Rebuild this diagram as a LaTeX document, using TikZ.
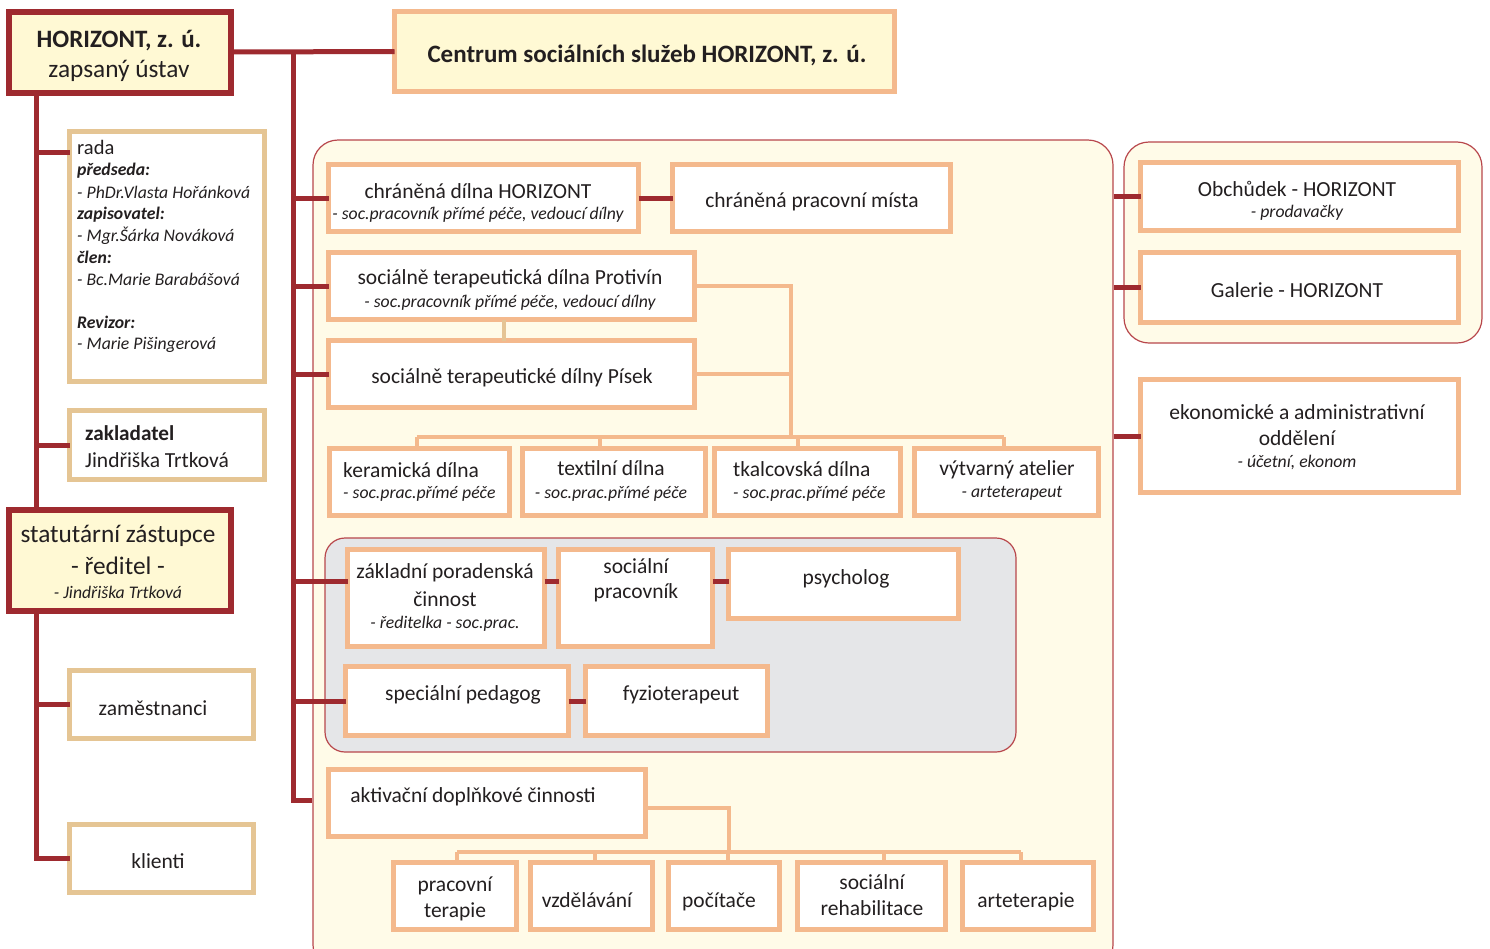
\documentclass[tikz,border=0pt]{standalone}
\usepackage{fontspec}
\setmainfont{Carlito}
\usetikzlibrary{calc}
\definecolor{dred}{HTML}{9E2A2F}
\definecolor{peach}{HTML}{F4B98D}
\definecolor{tanc}{HTML}{E5C594}
\definecolor{yfill}{HTML}{FFF9D4}
\definecolor{pfill}{HTML}{FFFBE8}
\definecolor{gfill}{HTML}{E5E6E8}
\definecolor{ink}{HTML}{231F20}
\definecolor{plinec}{HTML}{B8474C}
\newcommand\mkbox[6]{\node[#1, inner sep=0pt, outer sep=0pt, minimum width={(#4)-(#2)-5}, minimum height={(#5)-(#3)-5}] (#6) at ({((#2)+(#4))/2},{((#3)+(#5))/2}) {};}
\tikzset{
  redbox/.style={draw=dred, line width=6pt, fill=yfill, rectangle},
  peachbox/.style={draw=peach, line width=5pt, fill=white, rectangle},
  tanbox/.style={draw=tanc, line width=5pt, fill=white, rectangle},
  ybox/.style={draw=peach, line width=5pt, fill=yfill, rectangle},
  panel/.style={draw=plinec, line width=1.2pt, fill=pfill, rounded corners=25pt, rectangle},
  gpanel/.style={draw=plinec, line width=1.2pt, fill=gfill, rounded corners=20pt, rectangle},
  redline/.style={draw=dred, line width=5pt},
  pconn/.style={draw=peach, line width=4pt},
  tconn/.style={draw=tanc, line width=4pt},
  txt/.style={text=ink, inner sep=0pt, yshift=-1.5pt, font=\fontsize{21.5}{26}\selectfont},
  bigtxt/.style={text=ink, inner sep=0pt, yshift=-1.5pt, font=\fontsize{25.3}{30}\selectfont},
  btxt/.style={text=ink, inner sep=0pt, yshift=-1.5pt, font=\fontsize{25}{30}\selectfont\bfseries},
  subt/.style={text=ink, inner sep=0pt, yshift=-1.5pt, font=\fontsize{17.7}{21}\selectfont\itshape},
  bsubt/.style={text=ink, inner sep=0pt, yshift=-1.5pt, font=\fontsize{17.7}{21}\selectfont\bfseries\itshape},
}
\begin{document}
\begin{tikzpicture}[x=1pt,y=-1pt]
\useasboundingbox (0,0) rectangle (1490,948);
\clip (0,0) rectangle (1490,948);
% panels
\node[panel, inner sep=0pt, minimum width=800pt, minimum height=830pt] (mainp) at (713,555) {};
\node[panel, inner sep=0pt, minimum width=358pt, minimum height=201pt] (rightp) at (1303,242.5) {};
\node[gpanel, inner sep=0pt, minimum width=691pt, minimum height=214pt] (greyp) at (670.5,645) {};

% boxes
\mkbox{redbox}{6}{9}{233}{95}{horizont}
\mkbox{ybox}{392}{9}{897}{94}{centrum}
\mkbox{tanbox}{67}{129}{267}{384}{rada}
\mkbox{tanbox}{67}{408}{267}{482}{zakl}
\mkbox{redbox}{6}{507}{233}{613}{stat}
\mkbox{tanbox}{67}{668}{256}{741}{zam}
\mkbox{tanbox}{67}{822}{256}{895}{kli}

% coordinates
\coordinate (tr) at (293,52);
\coordinate (lt) at (36,92);
\coordinate (rb) at (36,152);
\coordinate (lt2) at (36,610);
\coordinate (pv) at (791,437);
\coordinate (av) at (729,852);

% red connectors
\draw[redline] (horizont.east) -- (centrum.west);
\draw[redline] (tr) -- (tr |- 0,800) -- (tr |- 0,800 -| mainp.west) -- (0,800 -| mainp.west);
\draw[redline] (lt) -- (lt |- stat.north);
\draw[redline] (rb) -- (rb -| rada.west);
\draw[redline] (lt |- zakl.west) -- (zakl.west);
\draw[redline] (lt2) |- (kli.west);
\draw[redline] (lt2 |- zam.west) -- (zam.west);

% panel boxes
\mkbox{peachbox}{326}{162}{641}{234}{chd}
\mkbox{peachbox}{670}{162}{953}{234}{cpm}
\mkbox{peachbox}{326}{250}{697}{322}{prot}
\mkbox{peachbox}{326}{338}{697}{410}{pisek}
\mkbox{peachbox}{327}{446}{512}{518}{ker}
\mkbox{peachbox}{520}{446}{708}{518}{tex}
\mkbox{peachbox}{712}{446}{903}{518}{tka}
\mkbox{peachbox}{912}{446}{1101}{518}{vyt}
\mkbox{peachbox}{345}{547}{547}{649}{zpc}
\mkbox{peachbox}{556}{547}{715}{649}{sp}
\mkbox{peachbox}{726}{547}{961}{621}{psy}
\mkbox{peachbox}{343}{664}{571}{738}{sped}
\mkbox{peachbox}{583}{664}{770}{738}{fyz}
\mkbox{peachbox}{326}{767}{648}{839}{akt}
\mkbox{peachbox}{391}{860}{519}{932}{pt}
\mkbox{peachbox}{528}{860}{655}{932}{vzd}
\mkbox{peachbox}{666}{860}{782}{932}{poc}
\mkbox{peachbox}{795}{860}{948}{932}{sr}
\mkbox{peachbox}{960}{860}{1096}{932}{art}
\mkbox{peachbox}{1138}{160}{1461}{233}{obch}
\mkbox{peachbox}{1138}{250}{1461}{325}{gal}
\mkbox{peachbox}{1138}{377}{1461}{495}{eko}

% trunk branches
\draw[redline] (tr |- chd.west) -- (chd.west);
\draw[redline] (tr |- prot.west) -- (prot.west);
\draw[redline] (tr |- pisek.west) -- (pisek.west);
\draw[redline] ([yshift=17pt]tr |- zpc.west) -- ([yshift=17pt]zpc.west);
\draw[redline] (tr |- sped.west) -- (sped.west);
\draw[redline] (chd.east) -- (cpm.west);
\draw[redline] ([yshift=17pt]zpc.east) -- ([yshift=17pt]sp.west);
\draw[redline] ([yshift=17pt]sp.east) -- ([yshift=17pt]sp.east -| psy.west);
\draw[redline] (sped.east) -- (fyz.west);
\draw[redline] (mainp.east |- obch.west) -- (obch.west);
\draw[redline] (mainp.east |- gal.west) -- (gal.west);
\draw[redline] (mainp.east |- eko.west) -- (eko.west);

% peach connectors
\draw[pconn] (prot.east) -| (pv);
\draw[pconn] (pisek.east) -- (pisek.east -| pv);
\draw[pconn] ([xshift=-3pt]ker.north |- pv) -- ([xshift=-3pt]vyt.north |- pv);
\draw[pconn] ([xshift=-3pt]ker.north |- pv) -- ([xshift=-3pt]ker.north);
\draw[pconn] ([xshift=-14pt]tex.north |- pv) -- ([xshift=-14pt]tex.north);
\draw[pconn] ([xshift=-10pt]tka.north |- pv) -- ([xshift=-10pt]tka.north);
\draw[pconn] ([xshift=-3pt]vyt.north |- pv) -- ([xshift=-3pt]vyt.north);
\draw[tconn] ([xshift=-8pt]prot.south) -- ([xshift=-8pt]pisek.north);
\draw[pconn] ([yshift=-5pt]akt.east) -| (av);
\draw[pconn] ([xshift=2pt]pt.north |- av) -- ([xshift=-7pt]art.north |- av);
\draw[pconn] ([xshift=2pt]pt.north |- av) -- ([xshift=2pt]pt.north);
\draw[pconn] ([xshift=3pt]vzd.north |- av) -- ([xshift=3pt]vzd.north);
\draw[pconn] ([xshift=4pt]poc.north |- av) -- ([xshift=4pt]poc.north);
\draw[pconn] ([xshift=12pt]sr.north |- av) -- ([xshift=12pt]sr.north);
\draw[pconn] ([xshift=-7pt]art.north |- av) -- ([xshift=-7pt]art.north);

% texts
\node[btxt] (t1) at (119,39) {HORIZONT, z. ú.};
\node[bigtxt] (t2) at (119,69) {zapsaný ústav};
\node[btxt] (t3) at (647,54) {Centrum sociálních služeb HORIZONT, z. ú.};

\node[txt, anchor=west, font=\fontsize{20.5}{24}\selectfont] (r0) at (77,146) {rada};
\node[bsubt, anchor=west] (r1) at (77,169) {předseda:};
\node[subt, anchor=west] (r2) at (77,191) {- PhDr.Vlasta Hořánková};
\node[bsubt, anchor=west] (r3) at (77,213) {zapisovatel:};
\node[subt, anchor=west] (r4) at (77,234) {- Mgr.Šárka Nováková};
\node[bsubt, anchor=west] (r5) at (77,256) {člen:};
\node[subt, anchor=west] (r6) at (77,278) {- Bc.Marie Barabášová};
\node[bsubt, anchor=west] (r7) at (77,321) {Revizor:};
\node[subt, anchor=west] (r8) at (77,343) {- Marie Pišingerová};

\node[txt, anchor=west, font=\fontsize{21.2}{25}\selectfont\bfseries] (z1) at (85,432) {zakladatel};
\node[txt, anchor=west] (z2) at (85,459) {Jindřiška Trtková};

\node[bigtxt] (s1) at (118,534) {statutární zástupce};
\node[bigtxt] (s2) at (118,564) {- ředitel -};
\node[subt] (s3) at (118,591) {- Jindřiška Trtková};

\node[txt] (e1) at (153,707) {zaměstnanci};
\node[txt] (k1) at (158,860) {klienti};

\node[txt] (c1) at (478,190) {chráněná dílna HORIZONT};
\node[subt] (c2) at (478,213) {- soc.pracovník přímé péče, vedoucí dílny};
\node[txt] (c3) at (812,200) {chráněná pracovní místa};
\node[txt] (p1) at (510,277) {sociálně terapeutická dílna Protivín};
\node[subt] (p2) at (510,301) {- soc.pracovník přímé péče, vedoucí dílny};
\node[txt] (p3) at (512,376) {sociálně terapeutické dílny Písek};

\node[txt, anchor=west] (w1) at (343,469) {keramická dílna};
\node[subt, anchor=west] (w2) at (343,492) {- soc.prac.přímé péče};
\node[txt] (w3) at (611,467) {textilní dílna};
\node[subt] (w4) at (611,492) {- soc.prac.přímé péče};
\node[txt, anchor=west] (w5) at (733,468) {tkalcovská dílna};
\node[subt, anchor=west] (w6) at (733,492) {- soc.prac.přímé péče};
\node[txt] (w7) at (1007,468) {výtvarný atelier};
\node[subt] (w8) at (1012,492) {- arteterapeut};

\node[txt] (g1) at (445,571) {základní poradenská};
\node[txt] (g2) at (445,598) {činnost};
\node[subt] (g3) at (445,622) {- ředitelka - soc.prac.};
\node[txt] (g4) at (636,565) {sociální};
\node[txt] (g5) at (636,591) {pracovník};
\node[txt] (g6) at (846,577) {psycholog};
\node[txt] (g7) at (463,693) {speciální pedagog};
\node[txt] (g8) at (681,693) {fyzioterapeut};

\node[txt] (a1) at (473,795) {aktivační doplňkové činnosti};
\node[txt] (b1) at (455,884) {pracovní};
\node[txt] (b2) at (455,910) {terapie};
\node[txt] (b3) at (587,899) {vzdělávání};
\node[txt] (b4) at (719,900) {počítače};
\node[txt] (b5) at (872,881) {sociální};
\node[txt] (b6) at (872,907) {rehabilitace};
\node[txt] (b7) at (1026,900) {arteterapie};

\node[txt] (o1) at (1297,187) {Obchůdek - HORIZONT};
\node[subt] (o2) at (1297,211) {- prodavačky};
\node[txt] (o3) at (1297,289) {Galerie - HORIZONT};
\node[txt] (o4) at (1297,411) {ekonomické a administrativní};
\node[txt] (o5) at (1297,437) {oddělení};
\node[subt] (o6) at (1297,461) {- účetní, ekonom};
\end{tikzpicture}
\end{document}
